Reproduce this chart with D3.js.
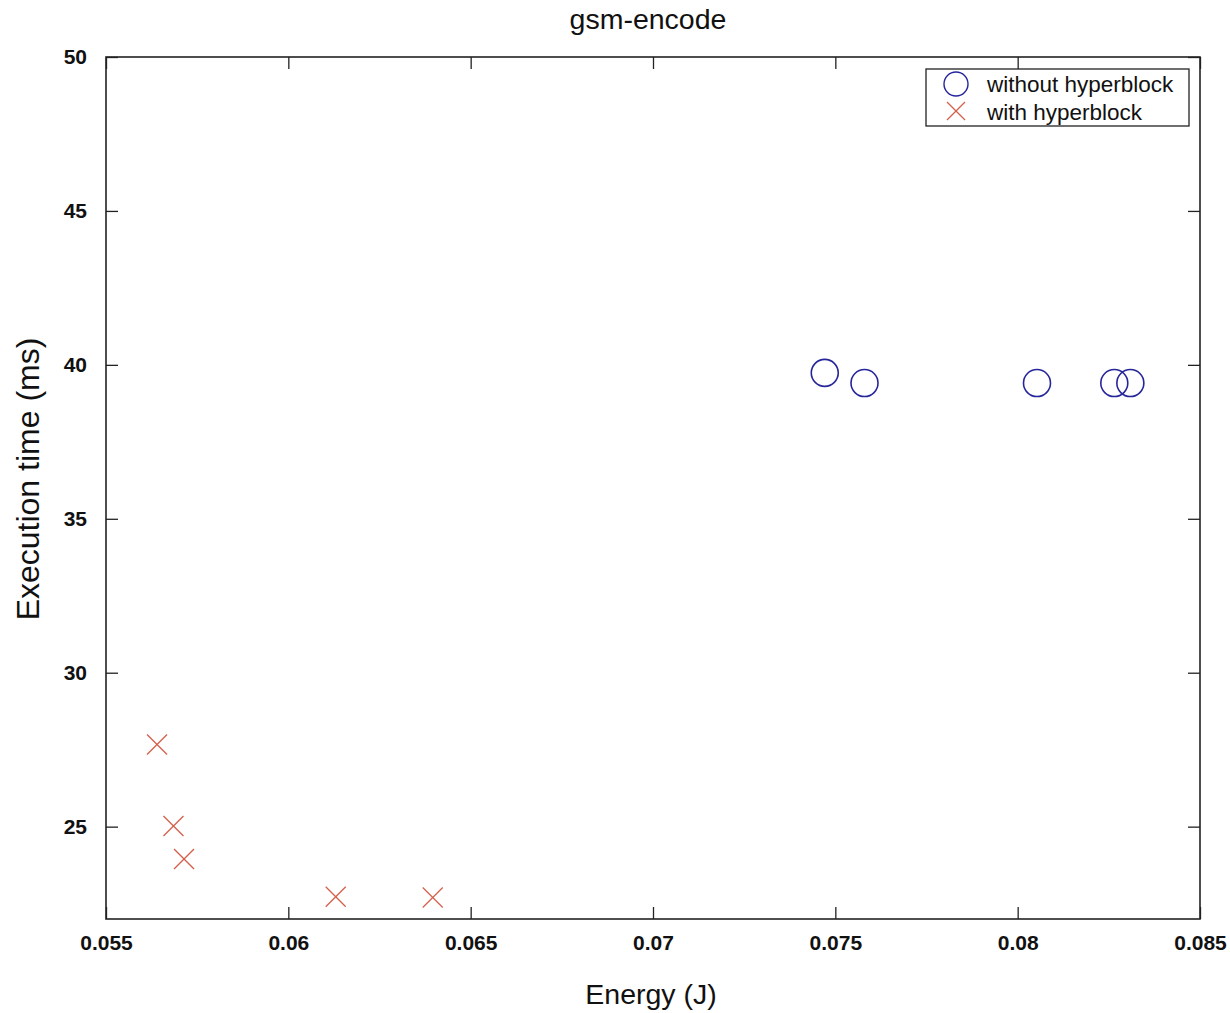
<!DOCTYPE html>
<head>
    <title>gsm-encode</title>
<style>
  body { margin: 0; background: #fff; }
</style>
</head>
<body>
<svg width="1230" height="1013" id="svg1"></svg>
<script src="https://d3js.org/d3.v7.min.js"></script>
<script>

// energy (J) / execution time (ms) per run
var noHbEnergy = [0.07471, 0.0758, 0.08053, 0.08265, 0.08309];
var noHbTime   = [39.74, 39.41, 39.41, 39.41, 39.41];
var hbEnergy   = [0.0564, 0.05685, 0.05714, 0.0613, 0.06396];
var hbTime     = [27.67, 25.02, 23.95, 22.72, 22.70];

var xTicks = [0.055, 0.06, 0.065, 0.07, 0.075, 0.08, 0.085];
var yTicks = [25, 30, 35, 40, 45, 50];
var seriesNames = ["without hyperblock", "with hyperblock"];

var svg = d3.select("#svg1"),
    margin = {left: 106, right: 30, top: 57, bottom: 94},
    width = +svg.attr("width") - margin.left - margin.right,
    height = +svg.attr("height") - margin.top - margin.bottom;

var blue = "#26269a",
    red = "#d4604c";

var x = d3.scaleLinear().domain([0.055, 0.085]).range([0, width]);
var y = d3.scaleLinear().domain([22, 50]).range([height, 0]);

var g = svg.append("g")
    .attr("transform", "translate(" + margin.left + "," + margin.top + ")");

var fmtX = function(d) { return d3.format("")(+d.toFixed(3)); };

// axes with inward ticks, mirrored on top and right
g.append("g")
    .attr("transform", "translate(0," + height + ")")
    .call(d3.axisBottom(x).tickValues(xTicks).tickSizeInner(-12).tickSizeOuter(0).tickPadding(16).tickFormat(fmtX))
    .attr("class", "axis xaxis");
g.append("g")
    .call(d3.axisTop(x).tickValues(xTicks).tickSizeInner(-12).tickSizeOuter(0).tickFormat(""))
    .attr("class", "axis");
g.append("g")
    .call(d3.axisLeft(y).tickValues(yTicks).tickSizeInner(-12).tickSizeOuter(0).tickPadding(19))
    .attr("class", "axis yaxis");
g.append("g")
    .attr("transform", "translate(" + width + ",0)")
    .call(d3.axisRight(y).tickValues(yTicks).tickSizeInner(-12).tickSizeOuter(0).tickFormat(""))
    .attr("class", "axis");

g.selectAll(".axis path").remove();
g.selectAll(".axis line").attr("stroke", "#222").attr("stroke-width", 1.3);
g.selectAll(".axis text")
    .attr("fill", "#111")
    .style("font-family", "Liberation Sans, Arial, sans-serif")
    .style("font-size", "21px")
    .style("font-weight", "bold");

g.append("rect")
    .attr("width", width)
    .attr("height", height)
    .attr("fill", "none")
    .attr("stroke", "#222")
    .attr("stroke-width", 1.6);

// circles: without hyperblock
g.selectAll(".noHb")
    .data(noHbEnergy).enter()
    .append("circle")
    .attr("class", "noHb")
    .attr("cx", function(d) { return x(d); })
    .attr("cy", function(d, i) { return y(noHbTime[i]); })
    .attr("r", 13.5)
    .attr("fill", "none")
    .attr("stroke", blue)
    .attr("stroke-width", 1.6);

// crosses: with hyperblock
function cross(sel, s) {
  sel.append("line").attr("x1", -s).attr("y1", -s).attr("x2", s).attr("y2", s);
  sel.append("line").attr("x1", -s).attr("y1", s).attr("x2", s).attr("y2", -s);
}
var hb = g.selectAll(".hb")
    .data(hbEnergy).enter()
    .append("g")
    .attr("class", "hb")
    .attr("transform", function(d, i) { return "translate(" + x(d) + "," + y(hbTime[i]) + ")"; })
    .attr("stroke", red)
    .attr("stroke-width", 1.3);
cross(hb, 10);

// legend
var legend = svg.append("g")
    .attr("transform", "translate(926,69)");
legend.append("rect")
    .attr("width", 263)
    .attr("height", 57)
    .attr("fill", "#fff")
    .attr("stroke", "#222")
    .attr("stroke-width", 1.3);
legend.append("circle")
    .attr("cx", 30).attr("cy", 15)
    .attr("r", 12)
    .attr("fill", "none")
    .attr("stroke", blue)
    .attr("stroke-width", 1.4);
var lx = legend.append("g")
    .attr("transform", "translate(30,42)")
    .attr("stroke", red)
    .attr("stroke-width", 1.2);
cross(lx, 9);
legend.selectAll(".ltext")
    .data(seriesNames).enter()
    .append("text")
    .attr("class", "ltext")
    .attr("x", 61)
    .attr("y", function(d, i) { return 15 + 28 * i; })
    .attr("dy", "0.36em")
    .style("font-family", "Liberation Sans, Arial, sans-serif")
    .style("font-size", "22.5px")
    .attr("fill", "#111")
    .text(function(d) { return d; });

// titles
svg.append("text")
    .attr("x", 648)
    .attr("y", 29)
    .attr("text-anchor", "middle")
    .style("font-family", "Liberation Sans, Arial, sans-serif")
    .style("font-size", "28.5px")
    .attr("fill", "#111")
    .text("gsm-encode");

svg.append("text")
    .attr("x", 651)
    .attr("y", 1004)
    .attr("text-anchor", "middle")
    .style("font-family", "Liberation Sans, Arial, sans-serif")
    .style("font-size", "28.5px")
    .attr("fill", "#111")
    .text("Energy (J)");

svg.append("text")
    .attr("transform", "translate(39,479) rotate(-90)")
    .attr("text-anchor", "middle")
    .style("font-family", "Liberation Sans, Arial, sans-serif")
    .style("font-size", "32px")
    .attr("fill", "#111")
    .text("Execution time (ms)");

</script>
</body>
